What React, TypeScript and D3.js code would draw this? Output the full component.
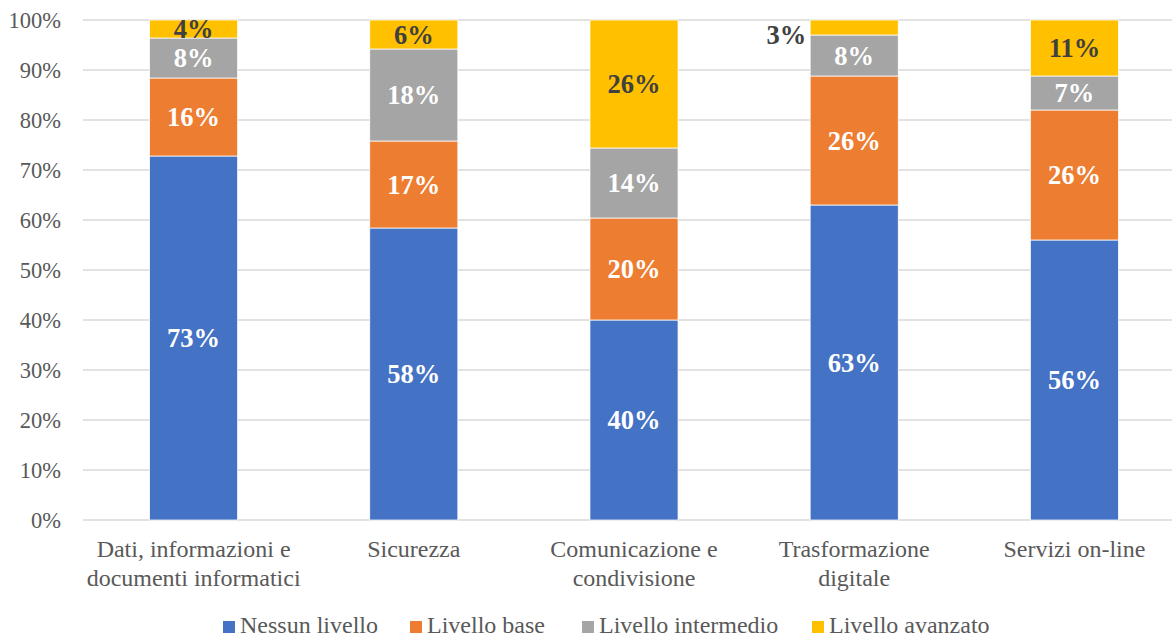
import React from "react";
import * as d3 from "d3";

const categories = [
  ["Dati, informazioni e", "documenti informatici"],
  ["Sicurezza"],
  ["Comunicazione e", "condivisione"],
  ["Trasformazione", "digitale"],
  ["Servizi on-line"],
];
const seriesNames = ["Nessun livello", "Livello base", "Livello intermedio", "Livello avanzato"];
const seriesColors = ["#4472C4", "#ED7D31", "#A5A5A5", "#FFC000"];
const labelColors = ["#FFFFFF", "#FFFFFF", "#FFFFFF", "#404040"];
const nessun = [72.8, 58.4, 40.0, 63.0, 56.0];
const base = [15.6, 17.4, 20.4, 25.8, 26.0];
const intermedio = [8.0, 18.4, 14.0, 8.2, 6.8];
const avanzato = [3.6, 5.8, 25.6, 3.0, 11.2];
const yTicks = [0, 10, 20, 30, 40, 50, 60, 70, 80, 90, 100];

const W = 1172;
const H = 636;
const FONT = "Liberation Serif, Times New Roman, serif";

export default function App() {
  const keys = categories.map((c) => c.join(" "));
  const rows = keys.map((k, i) => ({
    key: k,
    s0: nessun[i],
    s1: base[i],
    s2: intermedio[i],
    s3: avanzato[i],
  }));
  const stack = d3.stack<any>().keys(["s0", "s1", "s2", "s3"])(rows);
  const x = d3.scaleBand().domain(keys).range([83.5, 1184.5]).paddingInner(0.6).paddingOuter(0.3);
  const y = d3.scaleLinear().domain([0, 100]).range([520, 20]);

  const legendX = [223, 410, 582, 812];

  return (
    <svg width={W} height={H} style={{ position: "absolute", left: 0, top: 0, background: "#fff", fontFamily: FONT }}>
      {yTicks.map((t) => (
        <g key={t}>
          <line x1={83} x2={1172} y1={y(t)} y2={y(t)} stroke="#D9D9D9" strokeWidth={1.5} />
          <text x={61} y={y(t)} dy="0.35em" textAnchor="end" fontSize={22.5} fill="#595959">
            {t}%
          </text>
        </g>
      ))}
      {stack.map((s, si) => (
        <g key={si}>
          {s.map((d, i) => (
            <rect
              key={i}
              x={x(keys[i])!}
              width={x.bandwidth()}
              y={y(d[1])}
              height={y(d[0]) - y(d[1])}
              fill={seriesColors[si]}
              stroke="#FFFFFF"
              strokeWidth={0.75}
            />
          ))}
        </g>
      ))}
      {stack.map((s, si) =>
        s.map((d, i) => {
          const v = d[1] - d[0];
          const outside = si === 3 && v <= 3.0;
          const cx = outside ? x(keys[i])! - 4 : x(keys[i])! + x.bandwidth() / 2;
          const cy = outside ? y(d[0]) : y((d[0] + d[1]) / 2);
          return (
            <text
              key={`${si}-${i}`}
              x={cx}
              y={cy}
              dy="0.35em"
              textAnchor={outside ? "end" : "middle"}
              fontSize={26.5}
              fontWeight="bold"
              fill={labelColors[si]}
            >
              {Math.round(v)}%
            </text>
          );
        })
      )}
      {categories.map((lines, i) => (
        <text key={i} textAnchor="middle" fontSize={24} fill="#595959">
          {lines.map((l, j) => (
            <tspan key={j} x={x(keys[i])! + x.bandwidth() / 2} y={557 + j * 28.5}>
              {l}
            </tspan>
          ))}
        </text>
      ))}
      {seriesNames.map((n, i) => (
        <g key={n}>
          <rect x={legendX[i]} y={621} width={12} height={12} fill={seriesColors[i]} />
          <text x={legendX[i] + 17} y={633} fontSize={24} fill="#595959">
            {n}
          </text>
        </g>
      ))}
    </svg>
  );
}
